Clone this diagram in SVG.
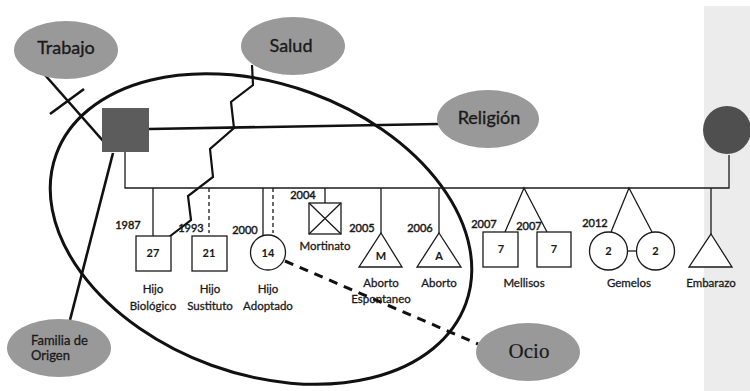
<svg xmlns="http://www.w3.org/2000/svg" width="750" height="391" viewBox="0 0 750 391">
<style>
text{font-family:Lato,"Open Sans","Liberation Sans",sans-serif;fill:#1a1a1a;text-anchor:middle;stroke:#1a1a1a;stroke-width:0.3}
.big{font-size:18px;stroke-width:0.35}
.lbl{font-size:11.5px}
.yr{font-size:11px;stroke-width:0.45}
.num{font-size:11px;font-weight:bold;stroke-width:0.1}
.sys{fill:#999999}
.thin{fill:none;stroke:#1a1a1a;stroke-width:1.3}
.sym{fill:#ffffff;stroke:#1a1a1a;stroke-width:1.3}
.thick{fill:none;stroke:#111;stroke-width:2.6}
</style>
<rect x="704" y="6" width="46" height="385" fill="#ececec"/>
<g id="connectors">
  <ellipse cx="261" cy="229" rx="218" ry="145" transform="rotate(20 261 229)" fill="none" stroke="#111" stroke-width="3"/>
  <line class="thick" x1="45" y1="75" x2="104" y2="142"/>
  <line class="thick" x1="50" y1="114" x2="84" y2="89"/>
  <line class="thick" x1="149" y1="129" x2="438" y2="124"/>
  <line class="thick" x1="113" y1="153" x2="70" y2="320"/>
  <polyline fill="none" stroke="#111" stroke-width="2.2" points="252,65 253,85 231,102 234,128 210,149 213,177 188,196 191,220 169,237"/>
  <line x1="285" y1="261" x2="478" y2="344" stroke="#111" stroke-width="3" stroke-dasharray="9,7"/>
  <polyline class="thin" points="125,152 125,188 729,188 729,155"/>
  <line class="thin" x1="153" y1="188" x2="153" y2="236"/>
  <line class="thin" x1="209" y1="188" x2="209" y2="233" stroke-dasharray="4,3"/>
  <line class="thin" x1="263" y1="188" x2="263" y2="236"/>
  <line class="thin" x1="273" y1="188" x2="273" y2="233" stroke-dasharray="4,3"/>
  <line class="thin" x1="325" y1="188" x2="325" y2="203"/>
  <line class="thin" x1="381" y1="188" x2="381" y2="233"/>
  <line class="thin" x1="439" y1="188" x2="439" y2="233"/>
  <polyline class="thin" points="505,232 524,188 547,232"/>
  <polyline class="thin" points="611,232 629,188 652,232"/>
  <line class="thin" x1="627" y1="251" x2="637" y2="251"/>
  <line class="thin" x1="711" y1="188" x2="711" y2="234"/>
</g>
<g id="trabajo"><ellipse class="sys" cx="66" cy="50" rx="52" ry="29"/><text class="big" x="66" y="54">Trabajo</text></g>
<g id="salud"><ellipse class="sys" cx="293" cy="46" rx="52" ry="29"/><text class="big" x="291" y="52">Salud</text></g>
<g id="religion"><ellipse class="sys" cx="488" cy="119" rx="51" ry="29"/><text class="big" x="489" y="124">Religión</text></g>
<g id="ocio"><ellipse class="sys" cx="528" cy="352" rx="52" ry="29"/><text x="529" y="358" style="font-family:'Liberation Serif','Times New Roman',serif;font-size:21px;stroke-width:0.2">Ocio</text></g>
<g id="familia"><ellipse class="sys" cx="59" cy="348" rx="52" ry="29"/><text x="31" y="345" style="font-size:13px;text-anchor:start">Familia de</text><text x="31" y="360" style="font-size:13px;text-anchor:start">Origen</text></g>
<g id="padre"><rect x="102" y="108" width="47" height="44" fill="#5c5c5c"/></g>
<g id="madre"><circle cx="727" cy="130" r="24" fill="#4f4f4f"/></g>
<g id="hijo-biologico"><rect class="sym" x="136" y="236" width="35" height="35"/><text class="num" x="153" y="257">27</text><text class="yr" x="128" y="229">1987</text><text class="lbl" x="153" y="293">Hijo</text><text class="lbl" x="153" y="310">Biológico</text></g>
<g id="hijo-sustituto"><rect class="sym" x="192" y="236" width="35" height="35"/><text class="num" x="209" y="257">21</text><text class="yr" x="191" y="232">1993</text><text class="lbl" x="210" y="293">Hijo</text><text class="lbl" x="210" y="310">Sustituto</text></g>
<g id="hijo-adoptado"><circle class="sym" cx="268" cy="252.5" r="17.5"/><text class="num" x="268" y="257">14</text><text class="yr" x="245" y="234">2000</text><text class="lbl" x="268" y="293">Hijo</text><text class="lbl" x="268" y="310">Adoptado</text></g>
<g id="mortinato"><rect class="sym" x="309" y="203" width="32" height="31"/><path class="thin" d="M309,203 L341,234 M341,203 L309,234"/><text class="yr" x="303" y="199">2004</text><text class="lbl" x="325" y="250">Mortinato</text></g>
<g id="aborto-espontaneo"><polygon class="sym" points="381,233 402,267 359,267"/><text class="num" x="381" y="260">M</text><text class="yr" x="362" y="232">2005</text><text class="lbl" x="381" y="287">Aborto</text><text class="lbl" x="381" y="303">Espontaneo</text></g>
<g id="aborto"><polygon class="sym" points="439,233 461,267 417,267"/><text class="num" x="439" y="260">A</text><text class="yr" x="420" y="232">2006</text><text class="lbl" x="439" y="287">Aborto</text></g>
<g id="mellisos"><rect class="sym" x="483" y="232" width="35" height="35"/><text class="num" x="501" y="253">7</text><rect class="sym" x="537" y="232" width="34" height="35"/><text class="num" x="554" y="253">7</text><text class="yr" x="484" y="228">2007</text><text class="yr" x="529" y="230">2007</text><text class="lbl" x="524" y="287">Mellisos</text></g>
<g id="gemelos"><circle class="sym" cx="608.5" cy="251" r="19"/><text class="num" x="608.5" y="255">2</text><circle class="sym" cx="655.5" cy="251" r="19"/><text class="num" x="655.5" y="255">2</text><text class="yr" x="595" y="227">2012</text><text class="lbl" x="629" y="287">Gemelos</text></g>
<g id="embarazo"><polygon class="sym" points="711,234 732,267 689,267"/><text class="lbl" x="711" y="287">Embarazo</text></g>
</svg>
